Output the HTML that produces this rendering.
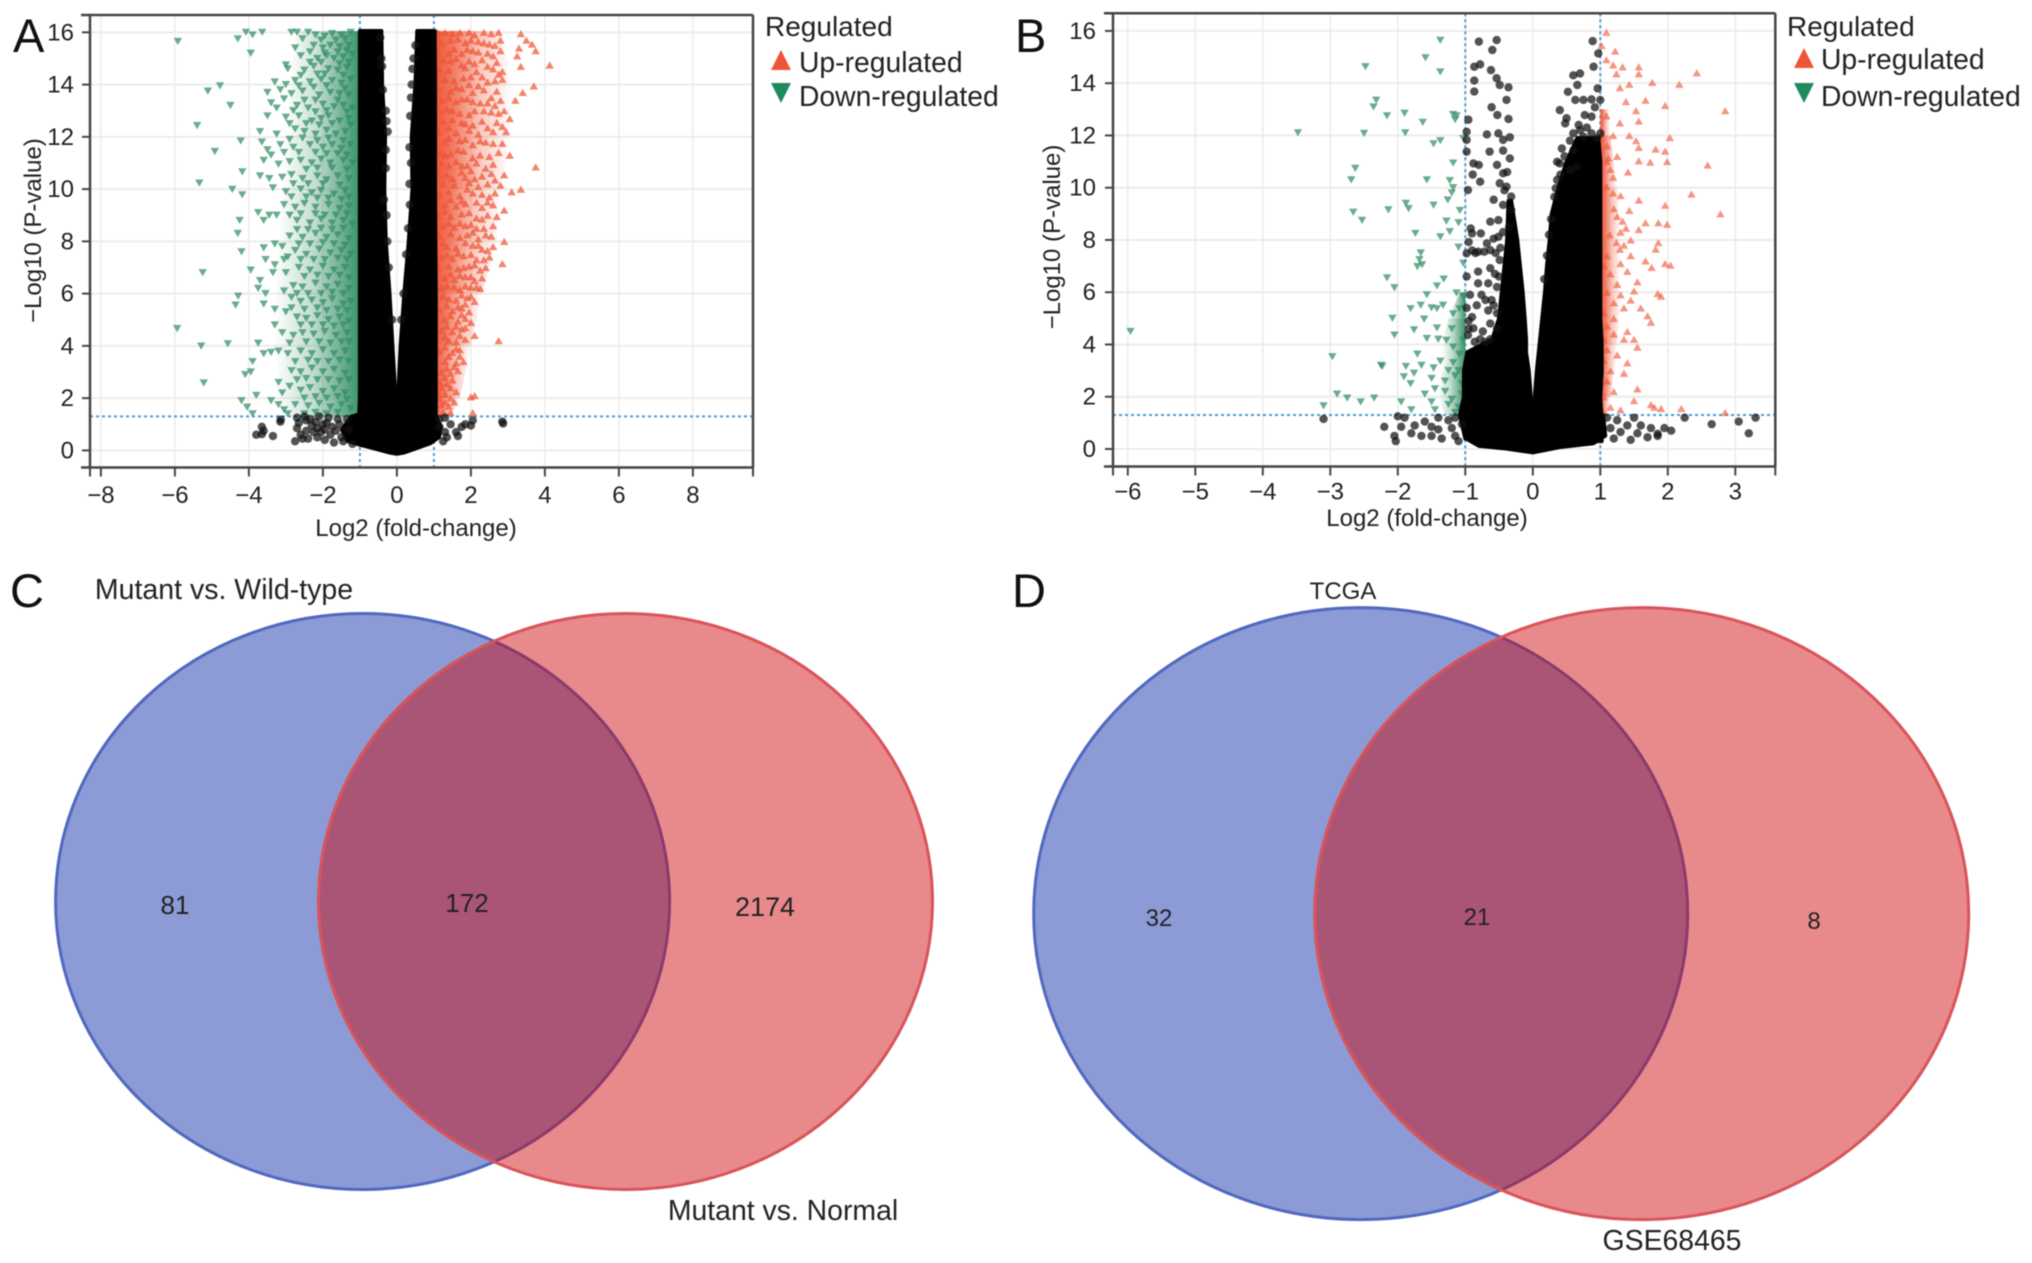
<!DOCTYPE html>
<html lang="en">
<head>
<meta charset="utf-8">
<title>Volcano plots and Venn diagrams</title>
<style>
html,body{margin:0;padding:0;background:#fff;}
svg{display:block;font-family:"Liberation Sans",sans-serif;filter:blur(.6px);}
text{fill:#222;}
</style>
</head>
<body>
<svg id="figure" xmlns="http://www.w3.org/2000/svg" width="2032" height="1263" viewBox="0 0 2032 1263">
  <defs>
    <linearGradient id="fadeDown" x1="1" y1="0" x2="0" y2="0">
      <stop offset="0" stop-color="#2f8c62" stop-opacity=".95"/>
      <stop offset=".2" stop-color="#2f8c62" stop-opacity=".72"/>
      <stop offset=".55" stop-color="#2f8c62" stop-opacity=".3"/>
      <stop offset="1" stop-color="#2f8c62" stop-opacity="0"/>
    </linearGradient>
    <linearGradient id="fadeUp" x1="0" y1="0" x2="1" y2="0">
      <stop offset="0" stop-color="#ee5536" stop-opacity="1"/>
      <stop offset=".25" stop-color="#ee5536" stop-opacity=".78"/>
      <stop offset=".6" stop-color="#ee5536" stop-opacity=".32"/>
      <stop offset="1" stop-color="#ee5536" stop-opacity="0"/>
    </linearGradient>
  </defs>
  <rect width="2032" height="1263" fill="#fff"/>
  <g id="panelA"></g>
  <g id="panelB"></g>

  <text x="13" y="52" font-size="47" style="fill:#111">A</text>
  <text x="1015" y="52" font-size="47" style="fill:#111">B</text>
  <text x="10" y="607" font-size="47" style="fill:#111">C</text>
  <text x="1012" y="607" font-size="47" style="fill:#111">D</text>

  <g>
    <ellipse cx="362.6" cy="901.5" rx="307" ry="288" fill="rgb(25,55,173)" fill-opacity=".5" stroke="#5068c0" stroke-width="3"/>
    <ellipse cx="625.5" cy="901.5" rx="307" ry="288" fill="rgb(206,6,11)" fill-opacity=".47" stroke="#d9545a" stroke-width="3"/>
    <text x="224" y="599" font-size="28.5" text-anchor="middle">Mutant vs. Wild-type</text>
    <text x="783" y="1220" font-size="28.4" text-anchor="middle">Mutant vs. Normal</text>
    <text x="175" y="914" font-size="26" text-anchor="middle">81</text>
    <text x="467" y="912" font-size="26" text-anchor="middle">172</text>
    <text x="765" y="916" font-size="27" text-anchor="middle">2174</text>
  </g>

  <g>
    <ellipse cx="1360.7" cy="913.6" rx="327" ry="306" fill="rgb(25,55,173)" fill-opacity=".5" stroke="#5068c0" stroke-width="3"/>
    <ellipse cx="1641.7" cy="913.6" rx="327" ry="306" fill="rgb(206,6,11)" fill-opacity=".47" stroke="#d9545a" stroke-width="3"/>
    <text x="1343" y="599" font-size="24" text-anchor="middle">TCGA</text>
    <text x="1672" y="1250" font-size="28.4" text-anchor="middle">GSE68465</text>
    <text x="1159" y="926" font-size="24" text-anchor="middle">32</text>
    <text x="1477" y="925" font-size="24" text-anchor="middle">21</text>
    <text x="1814" y="929" font-size="24" text-anchor="middle">8</text>
  </g>
</svg>
<script>
/* ---------- Panel A data (log2 fold-change, -log10 p) ---------- */
const aXTicks=[-8,-6,-4,-2,0,2,4,6,8];
const aYTicks=[0,2,4,6,8,10,12,14,16];
const aThresholdP=[1.3];
const aThresholdFC=[-1,1];
/* dense-region outlines, per y level */
const aCoreY=[16.05,14,12,10,8,6,4,2,1.3];
const aCoreLeftOuter=[-1,-1,-1,-1,-1,-1,-1,-1,-1.02];
const aCoreLeftInner=[-0.42,-0.4,-0.32,-0.34,-0.3,-0.2,-0.12,-0.04,-0.01];
const aCoreRightInner=[0.55,0.5,0.4,0.42,0.32,0.2,0.1,0.03,0.01];
const aCoreRightOuter=[1.02,1.03,1.03,1.03,1.04,1.05,1.05,1.05,1.05];
const aCapX=[-1.02,-1.25,-1.5,-1.35,-1,-0.6,-0.2,0,0.2,0.5,0.9,1.15,1.2,1.05];
const aCapY=[1.4,1.3,0.8,0.35,0.2,0.05,-0.1,-0.15,-0.1,0.05,0.25,0.5,0.9,1.4];
const aDownFade=[-2.7,-2.9,-3,-3.1,-3.2,-3.3,-3.3,-3.2,-3];
const aUpFade=[2.8,3.1,3.05,2.8,2.7,2.3,2,1.7,1.45];
const aDown=[[-5.92,15.65],[-4.3,15.75],[-4.08,16],[-3.9,15.9],[-3.64,16],[-3.95,15.2],[-3,14.75],[-4.78,13.95],[-5.11,13.75],[-4.5,13.2],[-5.4,12.43],[-4.22,11.84],[-4.92,11.44],[-5.34,10.23],[-4.45,9.99],[-4.18,9.78],[-4.18,10.66],[-5.94,4.66],[-5.29,3.99],[-4.57,4.08],[-5.22,2.58],[-5.25,6.8],[-4.36,5.56],[-4.29,5.9],
[-2.85,16],[-2.7,16],[-2.4,16],[-2.2,15.9],[-1.95,15.85],[-1.75,15.95],[-1.5,15.9],[-1.25,16],[-2.75,15.4],[-2.25,15.5],[-2,15.4],[-1.8,15.5],[-1.55,15.45],[-1.3,15.5],[-2.6,15.1],[-2.15,15],[-1.9,15.1],[-1.7,15],[-1.45,15.05],[-1.2,15.15],[-2.95,14.6],[-2.5,14.55],[-2.25,14.7],[-1.85,14.6],[-1.6,14.55],[-1.35,14.65],[-3.3,14.1],[-2.75,14.15],[-2.35,14.1],[-2.05,14.2],[-1.75,14.15],[-1.5,14.05],[-1.25,14.2],[-3.5,13.7],[-3.15,13.8],[-2.85,13.65],[-2.55,13.75],[-2.1,13.6],[-1.8,13.7],[-1.55,13.65],[-1.3,13.6],[-3.4,13.3],[-3.25,13.1],[-2.7,13.2],[-2.4,13.1],[-2,13.25],[-1.7,13.15],[-1.45,13.2],[-1.2,13.1],[-3.5,12.8],[-3,12.75],[-2.65,12.8],[-2.3,12.6],[-2.05,12.7],[-1.85,12.8],[-1.55,12.6],[-1.3,12.7],[-3.7,12.2],[-3.25,12.1],[-2.75,12.3],[-2.5,12.2],[-2.2,12.1],[-1.9,12.25],[-1.65,12.1],[-1.4,12.2],[-3.65,11.8],[-3.5,11.5],[-3.4,11.3],[-3.15,11.7],[-3.05,11.4],[-2.8,11.6],[-2.35,11.7],[-2,11.6],[-1.75,11.7],[-1.5,11.55],[-1.25,11.7],[-3.6,11.1],[-3.2,10.95],[-2.9,11.05],[-2.6,11.1],[-2.3,11],[-2.05,11.15],[-1.8,11],[-1.45,11.1],[-1.2,11],[-3.7,10.5],[-3.45,10.4],[-3.1,10.45],[-2.85,10.55],[-2.55,10.4],[-2.15,10.5],[-1.9,10.35],[-1.6,10.5],[-1.3,10.4],[-3.35,10.05],[-3,9.9],[-2.6,10],[-2.3,9.85],[-2.05,9.95],[-1.7,9.8],[-1.4,9.95],[-3.75,9.1],[-3.45,9],[-3.25,9],[-3.6,8.8],[-3.05,9.4],[-2.75,9.3],[-2.5,9.45],[-2.2,9.3],[-1.85,9.4],[-1.55,9.25],[-1.3,9.35],[-4.25,8.8],[-2.7,8.8],[-2.35,8.7],[-2.05,8.85],[-1.75,8.7],[-1.45,8.8],[-1.2,8.65],[-4.3,8.3],[-3.6,7.75],[-3.3,7.9],[-3.1,7.8],[-2.9,8.2],[-2.55,8.15],[-2.2,8.3],[-1.9,8.15],[-1.6,8.25],[-1.3,8.1],[-4.2,7.6],[-3.55,7.3],[-3.3,7.1],[-3.05,7.3],[-2.75,7.65],[-2.45,7.5],[-2.1,7.7],[-1.8,7.55],[-1.5,7.65],[-1.25,7.5],[-3.95,6.9],[-3.7,6.5],[-3.35,6.8],[-3,6.8],[-2.65,7],[-2.35,6.9],[-2,7.05],[-1.7,6.9],[-1.4,7],[-3.75,6.2],[-3.55,6],[-3.05,6.1],[-2.8,6.3],[-2.55,6.25],[-2.2,6.4],[-1.9,6.25],[-1.6,6.35],[-1.3,6.2],[-3.6,5.6],[-3.3,5.4],[-3,5.3],[-2.85,5.85],[-2.6,5.7],[-2.3,5.75],[-2,5.65],[-1.75,5.8],[-1.45,5.6],[-1.25,5.7],[-3.3,4.8],[-3.1,4.5],[-2.7,5.1],[-2.45,5.05],[-2.15,5.15],[-1.85,5],[-1.55,5.1],[-1.3,4.95],[-3.75,4.1],[-3.6,3.7],[-3.4,3.75],[-3.2,3.8],[-2.8,4.4],[-2.55,4.5],[-2.25,4.45],[-1.95,4.55],[-1.65,4.4],[-1.35,4.5],[-3.9,3.4],[-3.95,3],[-4.1,2.9],[-2.95,3.7],[-2.6,3.8],[-2.3,3.7],[-2,3.85],[-1.7,3.7],[-1.4,3.8],[-3.2,2.6],[-3.1,2.2],[-2.85,3.05],[-2.6,3],[-2.3,3.15],[-2,3],[-1.7,3.1],[-1.4,2.95],[-4.2,1.9],[-4.05,1.65],[-3.9,1.4],[-3.8,2.1],[-3.4,1.9],[-3.2,1.75],[-3.05,1.55],[-2.9,2.45],[-2.6,2.3],[-2.35,2.4],[-2,2.25],[-1.7,2.35],[-1.4,2.2],[-2.75,1.75],[-2.4,1.7],[-2.1,1.8],[-1.8,1.65],[-1.5,1.75],[-1.25,1.6],[-2.95,1.4],[-2.5,1.4],[-2.2,1.45],[-1.9,1.4],[-1.6,1.45],
[-2.55,15.75],[-2.05,15.7],[-1.65,15.7],[-1.4,15.75],[-2.35,15.25],[-1.95,15.2],[-1.6,15.25],[-1.35,15.3],[-2.35,14.85],[-2.05,14.85],[-1.55,14.8],[-1.3,14.85],[-2.6,14.35],[-2.15,14.4],[-1.95,14.4],[-1.45,14.35],[-3,14],[-2.65,13.95],[-2.25,13.9],[-1.9,13.95],[-1.4,13.85],[-3.05,13.45],[-2.5,13.4],[-2.2,13.4],[-1.6,13.4],[-2.8,13],[-2.2,12.95],[-1.9,13],[-1.35,12.95],[-2.9,12.5],[-2.45,12.5],[-2.1,12.45],[-1.75,12.5],[-1.25,12.45],[-2.9,11.9],[-2.55,11.95],[-2.15,11.85],[-1.85,11.95],[-1.45,11.85],[-2.65,11.4],[-2.2,11.4],[-1.9,11.35],[-1.6,11.35],[-1.35,11.3],[-2.45,10.75],[-2.15,10.8],[-1.75,10.8],[-1.35,10.75],[-2.8,10.2],[-2.4,10.2],[-2,10.2],[-1.55,10.15],[-2.85,9.7],[-2.45,9.7],[-2.15,9.65],[-1.85,9.65],[-1.5,9.6],[-1.3,9.7],[-2.9,9],[-2.6,9.05],[-2.2,9.05],[-1.95,9],[-1.65,9],[-1.35,9.05],[-2.7,8.45],[-2.4,8.45],[-2.05,8.5],[-1.75,8.45],[-1.45,8.5],[-2.65,7.9],[-2.35,7.9],[-2,7.95],[-1.7,7.9],[-1.4,7.85],[-2.95,7.4],[-2.6,7.3],[-2.25,7.3],[-1.95,7.3],[-1.6,7.35],[-1.35,7.3],[-2.5,6.65],[-2.15,6.7],[-1.85,6.65],[-1.55,6.7],[-1.3,6.6],[-2.7,6],[-2.4,6],[-2.05,6],[-1.75,6.05],[-1.45,6],[-2.85,5.45],[-2.5,5.4],[-2.15,5.45],[-1.9,5.35],[-1.6,5.4],[-1.35,5.35],[-2.6,4.8],[-2.3,4.8],[-2,4.8],[-1.7,4.75],[-1.45,4.8],[-2.9,4.1],[-2.45,4.15],[-2.1,4.15],[-1.8,4.1],[-1.5,4.15],[-1.3,4.15],[-2.75,3.4],[-2.4,3.45],[-2.15,3.4],[-1.85,3.4],[-1.55,3.45],[-1.3,3.4],[-2.7,2.7],[-2.45,2.75],[-2.15,2.7],[-1.85,2.7],[-1.55,2.65],[-1.3,2.7],[-2.5,2],[-2.2,2.05],[-1.9,2],[-1.6,2.05],[-1.35,1.95]];
const aUp=[[4.13,14.75],[3.75,15.3],[3.65,15.55],[3.5,15.7],[3.35,15.95],[3.3,15.4],[3.25,15.1],[3.35,14.7],[3.7,13.95],[3.4,13.7],[3.2,13.4],[3.05,12.7],[2.95,12.2],[3.05,11.3],[3.75,10.85],[3.35,10],[3.1,9.9],[2.9,9.2],[2.9,8],[2.85,7.15],[2.75,4.2],[2.4,7],[2.25,6.2],[2.1,4.4],[2.1,2.1],[2,2.05],[2.05,1.45],
[1.1,16],[1.3,16],[1.5,15.95],[1.7,16],[1.95,16],[2.1,15.9],[2.35,16],[2.55,15.95],[2.75,16],[1.2,15.6],[1.45,15.7],[1.85,15.6],[2.2,15.65],[2.5,15.55],[2.8,15.7],[1.1,15.3],[1.55,15.35],[1.75,15.2],[2.05,15.3],[2.45,15.2],[2.8,15.3],[1.25,14.95],[1.6,15],[1.95,14.9],[2.3,14.95],[2.7,14.85],[1.15,14.6],[1.4,14.55],[1.85,14.65],[2.15,14.5],[2.6,14.6],[2.85,14.5],[1.3,14.2],[1.55,14.15],[1.8,14.25],[2.45,14.1],[2.85,14.2],[1.1,13.85],[1.45,13.75],[1.75,13.85],[2.05,13.7],[2.35,13.8],[2.7,13.75],[1.2,13.4],[1.6,13.35],[1.9,13.45],[2.25,13.3],[2.8,13.4],[1.15,13],[1.35,13.05],[1.7,12.9],[2.1,13],[2.55,12.95],[2.9,13],[1.25,12.6],[1.5,12.65],[1.85,12.5],[2.3,12.6],[2.7,12.55],[1.1,12.2],[1.6,12.15],[1.95,12.25],[2.2,12.1],[2.6,12.2],[1.3,11.8],[1.7,11.85],[2.05,11.7],[2.4,11.8],[2.85,11.75],[1.15,11.4],[1.45,11.35],[1.8,11.45],[2.25,11.3],[2.75,11.4],[1.2,11],[1.6,11.05],[1.9,10.9],[2.15,11],[2.6,10.95],[1.1,10.6],[1.35,10.55],[1.75,10.65],[2.3,10.5],[2.55,10.6],[2.9,10.55],[1.25,10.2],[1.55,10.15],[1.95,10.25],[2.2,10.1],[2.45,10.2],[2.8,10.15],[1.15,9.8],[1.7,9.75],[2.05,9.85],[2.5,9.7],[1.3,9.4],[1.6,9.35],[1.85,9.45],[2.3,9.3],[2.6,9.4],[1.1,9],[1.45,8.95],[1.75,9.05],[2.15,8.9],[2.45,9],[2.7,8.95],[1.25,8.6],[1.55,8.55],[2,8.65],[2.35,8.5],[2.6,8.6],[1.15,8.2],[1.7,8.15],[1.9,8.25],[2.2,8.1],[2.55,8.2],[1.35,7.8],[1.6,7.75],[2.05,7.85],[2.3,7.7],[2.6,7.8],[1.2,7.4],[1.5,7.35],[1.8,7.45],[2.15,7.3],[2.5,7.4],[1.1,7],[1.65,6.95],[1.95,7.05],[2.25,6.9],[1.3,6.6],[1.55,6.55],[1.85,6.65],[2.1,6.5],[2.3,6.6],[1.2,6.2],[1.7,6.15],[2,6.25],[1.4,5.8],[1.6,5.75],[1.9,5.85],[2.1,5.7],[1.15,5.4],[1.5,5.35],[1.75,5.45],[1.95,5.3],[1.3,5],[1.65,4.95],[1.85,5.05],[2,4.9],[1.2,4.6],[1.5,4.55],[1.75,4.65],[1.4,4.2],[1.6,4.15],[1.85,4.25],[1.15,3.8],[1.5,3.75],[1.7,3.85],[1.3,3.4],[1.6,3.35],[1.8,3.4],[1.2,3],[1.45,2.95],[1.65,3.05],[1.15,2.6],[1.35,2.55],[1.1,2.2],[1.3,2.15],[1.45,2],[1.4,1.7],[1.2,1.75],[1.25,1.45],[1.45,1.45],
[1.65,15.75],[2,15.7],[2.35,15.6],[2.65,15.5],[1.4,15.2],[1.9,15.35],[2.2,15.25],[2.6,15.1],[1.45,14.9],[1.75,14.75],[2.1,14.8],[2.45,14.7],[2.75,14.4],[2,14.3],[2.3,14.3],[2.65,14.15],[1.6,13.9],[1.95,14],[2.2,13.95],[2.55,13.5],[1.4,13.5],[1.75,13.45],[2.05,13.35],[2.45,13.3],[2.65,13.2],[1.5,13],[1.95,12.85],[2.35,13],[2.75,12.9],[1.4,12.35],[1.75,12.55],[2.05,12.45],[2.45,12.35],[2.85,12.4],[1.4,11.95],[1.85,11.9],[2.25,11.85],[2.6,11.75],[1.3,11.3],[1.65,11.5],[2.05,11.2],[2.5,11.25],[1.4,10.9],[1.75,10.9],[2,10.7],[2.4,10.8],[1.5,10.4],[1.85,10.45],[2.1,10.4],[2.65,10.35],[1.4,9.9],[1.9,10],[2.3,9.8],[2.65,9.85],[1.45,9.6],[1.75,9.55],[2.15,9.5],[2.45,9.5],[1.3,9.15],[1.95,9.1],[2.3,8.85],[1.4,8.7],[1.7,8.7],[1.85,8.6],[2.15,8.5],[1.45,8.3],[2.05,8.35],[2.4,8.25],[1.25,7.95],[1.85,7.95],[2.2,7.85],[2.45,7.65],[1.35,7.5],[1.65,7.55],[2,7.5],[2.35,7.3],[1.4,7.05],[1.8,7],[2.1,7.1],[1.45,6.75],[1.7,6.7],[2,6.65],[1.35,6.3],[1.55,6.25],[1.85,6.3],[2.15,6.25],[1.25,5.9],[1.75,5.95],[2,5.9],[1.35,5.55],[1.65,5.5],[1.85,5.6],[1.45,5.15],[1.75,5.2],[1.35,4.75],[1.6,4.75],[1.85,4.7],[1.3,4.35],[1.7,4.4],[1.3,3.95],[1.6,3.9],[1.4,3.6],[1.7,3.6],[1.35,3.15],[1.55,3.2],[1.3,2.8],[1.5,2.7],[1.2,2.4],[1.45,2.4],[1.6,2.25],[1.15,2],[1.3,1.85],[1.55,1.85]];
const aBlack=[[-3.14,1.18],[-3.15,1.1],[-3.65,0.9],[-3.6,0.75],[-3.8,0.6],[-3.65,0.62],[-3.35,0.55],[-2.7,1.25],[-2.65,1.05],[-2.7,0.85],[-2.6,0.6],[-2.75,0.35],[-2.55,0.45],[-2.5,1.3],[-2.35,1.2],[-2.3,0.95],[-2.25,0.7],[-2.1,1.3],[-2,1],[-2.05,0.7],[-2.15,0.5],[-1.95,0.4],[-1.85,1.25],[-1.75,0.9],[-1.8,0.6],[-1.7,0.3],[-1.6,1.2],[-1.55,1],[-1.5,0.5],[-1.45,0.35],[-1.35,1.2],[-1.3,0.8],[-1.2,0.25],[-1.9,1.05],[-2.45,0.75],[-2.2,1.1],[-2.45,1.15],[-1.65,0.75],[-1.95,0.8],[-2.4,0.45],[-2.15,0.85],[1.15,1.2],[1.3,1.25],[1.45,1],[1.3,0.7],[1.35,0.5],[1.25,0.35],[1.6,0.7],[1.75,0.9],[1.85,1],[1.65,0.55],[2.05,1.15],[2,0.95],[2.85,1.1],[2.87,1.03],[1.15,0.9],[-0.45,15.8],[-0.4,14.7],[-0.3,13],[-0.25,12.2],[-0.3,11.5],[-0.35,9.6],[-0.26,8],[-0.42,15],[-0.38,13.8],[-0.28,12.6],[-0.3,10.8],[-0.28,9],[-0.22,7],[-0.13,5],[0.5,15.5],[0.42,14.6],[0.38,13.5],[0.34,11.6],[0.38,11],[0.3,8.5],[0.18,6],[0.45,15],[0.4,14],[0.36,12.8],[0.34,10.2],[0.35,9.4],[0.25,7.5],[0.12,5]];

/* ---------- Panel B data ---------- */
const bXTicks=[-6,-5,-4,-3,-2,-1,0,1,2,3];
const bYTicks=[0,2,4,6,8,10,12,14,16];
const bThresholdP=[1.3];
const bThresholdFC=[-1,1];
const bLeftCoreY=[9.5,8,7,6,5,4.2,3.7,3,2,1.3,0.4];
const bLeftCoreOuter=[-0.36,-0.38,-0.42,-0.46,-0.5,-0.6,-0.97,-1.02,-1.02,-1.08,-1];
const bLeftCoreInner=[-0.32,-0.23,-0.19,-0.15,-0.12,-0.1,-0.1,-0.06,-0.03,-0.02,0];
const bRightCoreY=[11.9,11,10,9,8,7,6,5,4,3,2,1,0.3];
const bRightCoreInner=[0.66,0.5,0.38,0.28,0.25,0.21,0.18,0.14,0.1,0.06,0.03,0.01,0];
const bRightCoreOuter=[0.97,1,1,1,1,1,1,1,1.02,1.02,1,1.02,1.02];
const bCapX=[-1.05,-1,-0.8,-0.4,0,0.4,0.9,1.08,1.05];
const bCapY=[1.2,0.4,0.1,0,-0.15,0.05,0.2,0.5,1.3];
const bDownFadeY=[6,5,4,3,2,1.3];
const bDownFade=[-1.08,-1.25,-1.35,-1.35,-1.4,-1.3];
const bUpFadeY=[13,12,10,8,6,4,2,1.3];
const bUpFade=[1.12,1.15,1.25,1.3,1.3,1.25,1.15,1.1];
const bDown=[[-5.96,4.5],[-3.48,12.1],[-2.48,14.63],[-1.37,15.64],[-1.59,14.97],[-1.37,14.43],[-2.32,13.35],[-2.36,13.09],[-2.16,12.75],[-1.9,12.85],[-1.18,12.8],[-1.13,12.75],[-1.15,12.6],[-1.63,12.5],[-2.5,12.08],[-1.89,12.1],[-1.37,11.8],[-1.47,11.68],[-1.03,11.88],[-1.18,10.94],[-2.63,10.74],[-2.69,10.3],[-1.57,10.3],[-1.23,10.27],[-1.18,10],[-1.2,9.8],[-1.88,9.4],[-1.84,9.2],[-2.14,9.15],[-2.66,9.06],[-2.53,8.75],[-1.47,9.33],[-1.26,9.53],[-1.08,9.13],[-1.28,8.72],[-1.1,8.66],[-1.74,8.25],[-1.37,8.12],[-1.23,8.32],[-1.1,7.72],[-1.66,7.5],[-1.68,7.25],[-1.64,7.05],[-1.71,6.98],[-1.03,7.11],[-2.16,6.55],[-2.05,6.17],[-1.32,6.5],[-1.42,6.24],[-1.57,5.9],[-1.13,5.97],[-1.03,5.84],[-1.81,5.37],[-1.66,5.5],[-1.42,5.37],[-1.33,5.5],[-1.09,5.37],[-1.18,5.17],[-1.61,4.97],[-2.08,5],[-1.76,4.56],[-1.42,4.63],[-2.05,4.36],[-1.57,4.23],[-1.28,4.16],[-1.03,4.16],[-1.18,3.9],[-1.71,3.63],[-1.09,3.63],[-2.97,3.53],[-1.37,3.36],[-2.23,3.16],[-1.88,3.16],[-1.76,2.9],[-1.47,3.1],[-1.18,3.3],[-1.91,2.76],[-1.81,2.5],[-1.5,2.7],[-1.3,2.6],[-1.15,2.8],[-1.05,2.5],[-2.35,1.95],[-2.9,2.1],[-2.75,1.95],[-2.55,1.8],[-3.1,1.65],[-1.95,1.8],[-1.8,1.5],[-1.5,1.8],[-1.45,1.5],[-1.3,2.2],[-1.2,1.9],[-1.1,1.6],[-1.15,1.4],[-1.05,2.1],[-1.03,1.5],[-1.25,1.7],[-1.45,2.3],[-1.6,2.1],[-1.25,3],[-1.4,4.2],[-1.5,5.4],[-1.2,4.6],[-1.1,3],[-2.25,3.2],[-1.65,3.2]];
const bUp=[[1.09,15.95],[1.02,15.44],[1.22,15.23],[1.09,14.9],[1.19,14.7],[1.33,14.63],[1.57,14.63],[1.24,14.36],[1.57,14.36],[2.43,14.4],[1.77,14.03],[2.17,13.96],[1.43,13.96],[1.29,13.83],[1.38,13.3],[1.67,13.35],[1.96,13.15],[2.85,12.95],[1.53,12.95],[1.09,12.75],[1.29,12.48],[1.57,12.55],[1.19,12],[1.43,12],[2.03,11.92],[1.53,11.8],[1.82,11.48],[1.96,11.4],[1.57,11.54],[1.12,11.14],[1.1,11],[1.57,11.03],[1.74,10.98],[1.99,11],[2.59,10.87],[1.41,10.6],[1.19,10.4],[1.09,10.05],[1.19,9.8],[2.35,9.76],[1.57,9.53],[1.96,9.33],[1.43,9.13],[2.78,9],[1.67,8.66],[1.33,8.72],[1.38,8.45],[1.86,8.66],[1.99,8.6],[1.57,8.4],[1.14,8.2],[1.24,7.9],[1.29,7.65],[1.86,7.9],[1.82,7.65],[1.96,7.1],[2.04,7.04],[1.67,7.2],[1.76,6.95],[1.1,7.4],[1.05,7],[1.15,6.7],[1.25,6.3],[1.55,6.4],[1.5,6.05],[1.85,5.95],[1.9,5.85],[1.1,6],[1.2,5.6],[1.35,5.4],[1.6,5.4],[1.7,5.1],[1.75,4.85],[1.05,5.2],[1.1,4.7],[1.2,4.4],[1.4,4.5],[1.5,4.2],[1.55,3.9],[1.05,4.2],[1.1,3.8],[1.25,3.6],[1.4,3.3],[1.35,2.9],[1.15,3],[1.05,3.4],[1.1,2.6],[1.2,2.2],[1.55,2.3],[1.5,1.85],[1.05,2],[1.15,1.6],[1.75,1.7],[1.9,1.55],[1.8,1.6],[2.2,1.55],[2.85,1.4],[1.3,1.5],[1.05,1.4],[1.35,7.8],[1.45,7.4],[1.4,6.8],[1.3,5.9],[1.45,5.7],[1.2,5],[1.35,4.2],[1.3,8.3],[1.45,8],[1.2,9.2],[1.3,9.7],[1.25,8.9],[1.15,10.7],[1.25,11.2],[1.1,11.6],[1.3,7.1]];
const bBlack=[[-0.799,15.59],[-0.535,15.65],[-0.6,15.27],[-0.867,14.63],[-0.78,14.72],[-0.62,14.5],[-0.536,14.19],[-0.49,13.93],[-0.36,13.84],[-0.867,14.1],[-0.867,13.68],[-0.39,13.36],[-0.61,13.08],[-0.525,12.78],[-0.36,12.63],[-0.955,12.6],[-0.98,12.14],[-0.68,12.04],[-0.51,12.08],[-0.34,11.93],[-0.44,11.83],[-0.98,11.83],[-0.98,11.38],[-0.64,11.38],[-0.44,11.42],[-0.34,11.12],[-0.88,10.93],[-0.8,10.87],[-0.53,10.87],[-0.44,10.55],[-0.89,10.5],[-0.78,10.23],[-0.49,10.17],[-0.39,10.04],[-0.96,9.91],[-0.32,9.66],[-0.58,9.54],[-0.44,9.34],[-0.32,9.15],[-0.63,8.7],[-0.51,8.76],[-0.92,8.44],[-0.77,8.25],[-0.58,8.05],[-0.95,7.92],[-0.9,8.25],[-0.68,7.87],[-0.51,8.12],[-0.98,7.49],[-0.81,7.55],[-0.63,7.61],[-0.49,7.23],[-0.63,6.92],[-0.81,6.79],[-0.98,6.6],[-0.81,6.34],[-0.66,6.34],[-0.53,6.2],[-0.93,5.9],[-0.76,5.9],[-0.61,5.7],[-0.83,5.5],[-0.66,5.3],[-0.9,5.05],[-0.53,5.2],[-0.63,4.8],[-0.88,4.62],[-0.74,4.5],[-0.53,4.6],[-0.96,4.36],[-0.78,4.2],[-0.63,4.2],[-0.38,10.6],[-0.42,9.9],[-0.35,8.5],[-0.44,8.3],[-0.48,7.7],[-0.55,7.5],[-0.72,7.55],[-0.85,7.5],[-0.9,7.6],[-0.5,6.6],[-0.56,6.7],[-0.7,5.7],[-0.58,5.5],[-0.95,4.9],[-0.98,5.4],[-0.95,4.6],[-0.86,4.1],[-0.7,4.1],
[0.887,15.61],[0.97,15.14],[0.9,14.63],[0.6,14.3],[0.7,14.37],[0.66,13.93],[0.52,13.67],[0.96,13.8],[0.63,13.36],[0.75,13.36],[0.87,13.38],[1,13.36],[0.4,12.97],[0.92,13.08],[0.77,12.78],[0.5,12.66],[0.48,12.46],[0.68,12.4],[0.87,12.72],[0.6,12.08],[0.75,11.95],[0.95,11.89],[0.43,11.5],[0.6,11.43],[0.36,10.99],[0.4,10.93],[0.55,10.67],[0.65,10.8],[0.34,9.98],[0.32,9.65],[0.87,12.08],[1,12.08],[0.41,10.5],[0.7,12.2],[0.8,12.3],[0.55,11.8],[0.47,11.2],[0.36,10.3],[0.27,8.8],[0.24,8.2],[0.21,7.4],[0.17,6.5],
[-3.1,1.15],[-2.2,0.85],[-2.05,0.5],[-2.03,0.3],[-2,1.25],[-1.95,0.85],[-1.9,1.2],[-1.75,0.9],[-1.8,0.6],[-1.65,0.5],[-1.6,1.05],[-1.5,0.85],[-1.5,0.5],[-1.4,1.2],[-1.4,0.75],[-1.35,0.4],[-1.25,1.1],[-1.2,0.8],[-1.15,0.5],[-1.1,0.3],[-1.15,1.2],[-1.05,0.95],[1.1,1.2],[1.15,0.8],[1.2,0.4],[1.25,1.1],[1.3,0.65],[1.4,0.9],[1.45,0.35],[1.5,1.2],[1.55,0.6],[1.6,0.9],[1.7,0.45],[1.75,0.8],[1.85,0.5],[1.85,0.58],[1.95,0.8],[2.05,0.7],[2.25,1.2],[2.65,0.95],[3.05,1.05],[3.3,1.2],[3.2,0.6]];

const NS='http://www.w3.org/2000/svg';

function el(parent,tag,attrs,text){
  const n=document.createElementNS(NS,tag);
  for(const k in attrs)n.setAttribute(k,attrs[k]);
  if(text!==undefined)n.textContent=text;
  parent.appendChild(n);
  return n;
}
function fmt(v){return String(v).replace('-','\u2212');}

function drawPanel(root,g,d){
  const sx=v=>g.x0+v*g.xUnit;
  const sy=v=>g.y0-v*g.yUnit;
  const pts=(xs,ys)=>xs.map((x,i)=>sx(x)+','+sy(ys[i])).join(' ');

  /* gridlines */
  d.xTicks.forEach(t=>{
    const n=el(root,'line',{x1:sx(t),x2:sx(t),y1:g.top,y2:g.bottom,stroke:'#ececec','stroke-width':1.5});
    
    
  });
  d.yTicks.forEach(t=>{
    const n=el(root,'line',{x1:g.left,x2:g.right,y1:sy(t),y2:sy(t),stroke:'#ececec','stroke-width':2});
    
    
  });

  /* threshold lines */
  d.thrFC.forEach(t=>{
    const n=el(root,'line',{x1:sx(t),x2:sx(t),y1:g.top,y2:g.bottom,stroke:'#4a9bd8','stroke-width':2,'stroke-dasharray':'3 3'});
    
    
  });
  d.thrP.forEach(t=>{
    const n=el(root,'line',{x1:g.left,x2:g.right,y1:sy(t),y2:sy(t),stroke:'#4a9bd8','stroke-width':2,'stroke-dasharray':'3 3'});
    
    
  });

  /* fading density behind the triangles: one slice between each pair of y levels */
  (d.bands||[]).forEach(b=>{
    for(let i=0;i<b.ys.length-1;i++){
      const xs=[b.edge,b.xs[i],b.xs[i+1],b.edge];
      const ys=[b.ys[i],b.ys[i],b.ys[i+1],b.ys[i+1]];
      const n=el(root,'polygon',{points:pts(xs,ys),fill:'url(#'+b.gradient+')'});
      
      
    }
  });

  /* triangles */
  const tw=4.2,th=3.6;
  d.down.forEach(p=>{
    const cx=sx(p[0]),cy=sy(p[1]);
    const n=el(root,'polygon',{points:(cx-tw)+','+(cy-th)+' '+(cx+tw)+','+(cy-th)+' '+cx+','+(cy+th),fill:'#2f8c62','fill-opacity':.72});
    
    
  });
  d.up.forEach(p=>{
    const cx=sx(p[0]),cy=sy(p[1]);
    const n=el(root,'polygon',{points:(cx-tw)+','+(cy+th)+' '+(cx+tw)+','+(cy+th)+' '+cx+','+(cy-th),fill:'#ee5536','fill-opacity':d.upAlpha});
    
    
  });

  /* black cores */
  d.cores.forEach(c=>{
    const n=el(root,'polygon',{points:pts(c.outer.concat(c.inner.slice().reverse()),c.ys.concat(c.ys.slice().reverse())),fill:'#000',stroke:'#000','stroke-width':4,'stroke-linejoin':'round'});
    
    
  });
  const cap=el(root,'polygon',{points:pts(d.capX,d.capY),fill:'#000',stroke:'#000','stroke-width':3,'stroke-linejoin':'round'});
  
  
  d.black.forEach(p=>{
    const n=el(root,'circle',{cx:sx(p[0]),cy:sy(p[1]),r:4.2,fill:'#111','fill-opacity':.72});
    
    
  });

  /* frame */
  const frame=[[g.left,g.top,g.left,g.bottom,'left-spine'],[g.right,g.top,g.right,g.bottom,'right-spine'],[g.left-9,g.top,g.right,g.top,'top-spine'],[g.left-9,g.bottom,g.right,g.bottom,'bottom-spine']];
  frame.forEach(f=>{
    const n=el(root,'line',{x1:f[0],y1:f[1],x2:f[2],y2:f[3],stroke:'#454545','stroke-width':2.5});
    
    
  });

  /* ticks and tick labels */
  d.xTicks.forEach(t=>{
    const n=el(root,'line',{x1:sx(t),x2:sx(t),y1:g.bottom,y2:g.bottom+9,stroke:'#454545','stroke-width':2});
    
    
    const l=el(root,'text',{x:sx(t),y:g.xLabelY,'font-size':24,'text-anchor':'middle'},fmt(t));
    
    
  });
  [g.left,g.right].forEach(x=>{
    const n=el(root,'line',{x1:x,x2:x,y1:g.bottom,y2:g.bottom+9,stroke:'#454545','stroke-width':2});
    
    
  });
  d.yTicks.forEach(t=>{
    const n=el(root,'line',{x1:g.left-8,x2:g.left,y1:sy(t),y2:sy(t),stroke:'#454545','stroke-width':2});
    
    
    const l=el(root,'text',{x:g.yLabelX,y:sy(t)+8,'font-size':24,'text-anchor':'end'},fmt(t));
    
    
  });

  /* axis titles */
  const xt=el(root,'text',{x:g.xTitleX,y:g.xTitleY,'font-size':24,'text-anchor':'middle'},'Log2 (fold-change)');
  
  
  const yt=el(root,'text',{transform:'translate('+g.yTitleX+','+g.yTitleY+') rotate(-90)','font-size':24,'text-anchor':'middle'},'\u2212Log10 (P-value)');
  
  

  /* legend */
  const t0=el(root,'text',{x:g.legX,y:g.legTitleY,'font-size':28},'Regulated');
  
  
  const lu=el(root,'polygon',{points:(g.legMark-10)+','+(g.legUpY+10)+' '+(g.legMark+10)+','+(g.legUpY+10)+' '+g.legMark+','+(g.legUpY-10),fill:'#ee5536'});
  
  
  const tu=el(root,'text',{x:g.legText,y:g.legUpText,'font-size':28.3},'Up-regulated');
  
  
  const ld=el(root,'polygon',{points:(g.legMark-10)+','+(g.legDownY-10)+' '+(g.legMark+10)+','+(g.legDownY-10)+' '+g.legMark+','+(g.legDownY+10),fill:'#1f8a5c'});
  
  
  const td=el(root,'text',{x:g.legText,y:g.legDownText,'font-size':28.3},'Down-regulated');
  
  
}

drawPanel(document.getElementById('panelA'),
 {x0:396.9,xUnit:37,y0:450.4,yUnit:26.13,left:90,right:753,top:15,bottom:467.5,xLabelY:503,yLabelX:74,xTitleX:416,xTitleY:536,yTitleX:41,yTitleY:230.6,
  legX:765,legTitleY:36,legMark:781,legUpY:60,legDownY:93,legText:799,legUpText:72,legDownText:106},
 {xTicks:aXTicks,yTicks:aYTicks,thrFC:aThresholdFC,thrP:aThresholdP,down:aDown,up:aUp,black:aBlack,upAlpha:.72,capX:aCapX,capY:aCapY,
  bands:[
   {ys:aCoreY,xs:aDownFade,edge:-1,gradient:'fadeDown',name:'down-regulated-density-slice'},
   {ys:aCoreY,xs:aUpFade,edge:1,gradient:'fadeUp',name:'up-regulated-density-slice'}],
  cores:[{ys:aCoreY,outer:aCoreLeftOuter,inner:aCoreLeftInner},{ys:aCoreY,outer:aCoreRightOuter,inner:aCoreRightInner}]});

drawPanel(document.getElementById('panelB'),
 {x0:1532.8,xUnit:67.5,y0:449,yUnit:26.13,left:1113,right:1775.3,top:13.3,bottom:466.5,xLabelY:499.5,yLabelX:1096,xTitleX:1427,xTitleY:526,yTitleX:1060,yTitleY:237,
  legX:1787,legTitleY:36,legMark:1804,legUpY:58,legDownY:93,legText:1821,legUpText:69,legDownText:106},
 {xTicks:bXTicks,yTicks:bYTicks,thrFC:bThresholdFC,thrP:bThresholdP,down:bDown,up:bUp,black:bBlack,upAlpha:.62,capX:bCapX,capY:bCapY,
  bands:[
   {ys:bDownFadeY,xs:bDownFade,edge:-1,gradient:'fadeDown',name:'down-regulated-density-slice'},
   {ys:bUpFadeY,xs:bUpFade,edge:1,gradient:'fadeUp',name:'up-regulated-density-slice'}],
  cores:[{ys:bLeftCoreY,outer:bLeftCoreOuter,inner:bLeftCoreInner},{ys:bRightCoreY,outer:bRightCoreOuter,inner:bRightCoreInner}]});
</script>
</body>
</html>
